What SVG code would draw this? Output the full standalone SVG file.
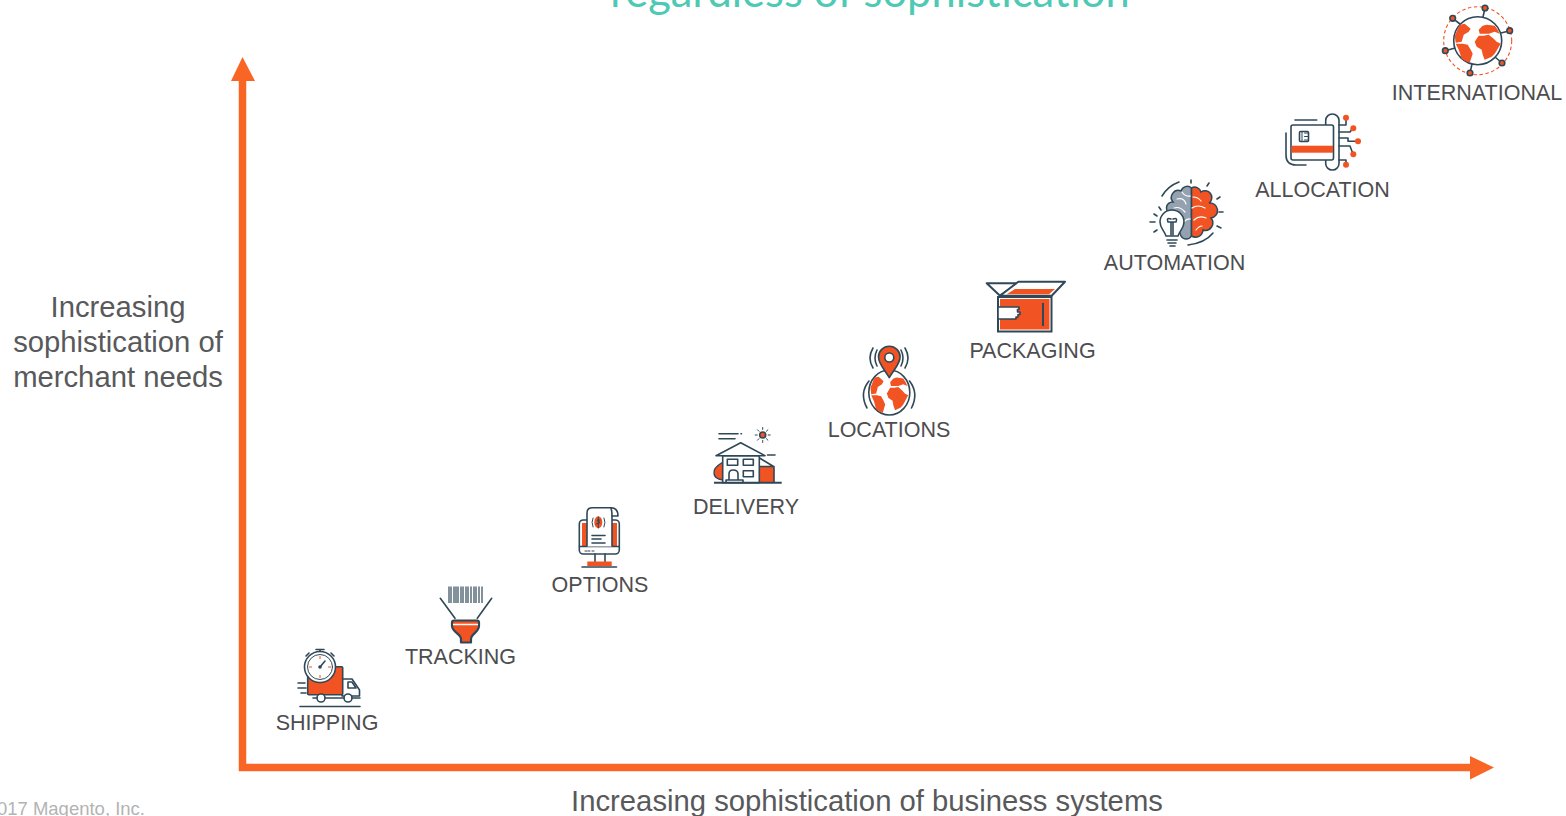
<svg xmlns="http://www.w3.org/2000/svg" xmlns:xlink="http://www.w3.org/1999/xlink" width="1566" height="816" viewBox="0 0 1566 816">
<style>
text{font-family:"Liberation Sans",Arial,sans-serif;fill:#4d4d4f}
.lb{font-size:21.500px;text-anchor:middle}
.ax{font-size:29.250px;fill:#58595b}
.s{fill:none;stroke:#2f4858;stroke-width:1.600;stroke-linecap:round;stroke-linejoin:round}
.w{fill:#fff;stroke:#2f4858;stroke-width:1.600;stroke-linejoin:round}
.o{fill:#f15322}
.ow{fill:#f15322;stroke:#2f4858;stroke-width:1.600;stroke-linejoin:round}
.t{fill:none;stroke:#2f4858;stroke-width:1;stroke-linecap:round}
.g{fill:none;stroke:#fff;stroke-width:1.200;stroke-linecap:round}
</style>
<defs>
<path id="land" class="o" d="M-23-5L-18-16-13-17-7-12-9-9-14-6-16 1-22 2ZM-22 3L-15 3-10 4-7 9-5 13-8 22-13 20-16 18-19 9ZM1-11L5-15 9-16 17-15 20-11 22-7 17-9 11-7 2-7ZM-3 1L1-5 6-5 11-6 16-2 19 1 23 3 20 8 17 13 14 16 7 19 5 14 4 9-1 6Z"/>
</defs>
<text x="870" y="7" text-anchor="middle" style="font-family:Lato,'Liberation Sans',sans-serif;font-size:43.500px;fill:#4ec9b4">regardless of sophistication</text>
<g id="axes">
<path d="M242.500 80V767.500H1471" fill="none" stroke="#f96524" stroke-width="7.500"/>
<path d="M231 81L242.500 57 255 81Z" fill="#f96524"/>
<path d="M1470 756L1494 767.500 1470 779.500Z" fill="#f96524"/>
</g>
<g id="axis-y"><text class="ax" x="118" y="317" text-anchor="middle">Increasing</text><text class="ax" x="118" y="352" text-anchor="middle">sophistication of</text><text class="ax" x="118" y="387" text-anchor="middle">merchant needs</text></g>
<g id="axis-x"><text class="ax" x="867" y="811" text-anchor="middle">Increasing sophistication of business systems</text></g>
<text x="145" y="815" text-anchor="end" style="font-size:18.500px;fill:#b3b3b3">017 Magento, Inc.</text>

<g id="shipping">
<path class="s" d="M298 683H305M298 688H306M301 693H306M300 706.500H360"/>
<path class="w" d="M342 679H352L359.500 690V696H342Z"/>
<path class="s" d="M348 682H352L356 688H348Z"/>
<rect class="ow" x="307.700" y="666.700" width="35" height="28" rx="1"/>
<circle class="w" cx="320" cy="667" r="15.500"/><circle class="t" cx="320" cy="667" r="12.500"/>
<path class="s" d="M320 667L325 661M316 649.500H324M320 650V651.500M309 653L306 656M331 653L334 656"/>
<circle cx="320" cy="667" r="1.800" fill="#2f4858"/>
<path d="M320 656V659M320 675V678M309 667H312M328 667H331" stroke="#f15322" stroke-width="1"/>
<circle class="w" cx="321" cy="698" r="4"/><circle class="w" cx="348" cy="698" r="4"/>
<path class="s" d="M313 698H317M325 698H344M352 698H360"/>
<text class="lb" x="327" y="730">SHIPPING</text>
</g>

<g id="tracking">
<path d="M449 586.500V603M451 586.500V603M454 586.500V603M456 586.500V603M458 586.500V603M461 586.500V603M463 586.500V603M466 586.500V603M468 586.500V603M471 586.500V603M474 586.500V603M476 586.500V603M479 586.500V603M482 586.500V603" stroke="#2f4858" stroke-width="1.200"/>
<path class="s" d="M440.300 598.300L455 618.300M491.700 598.300L477.300 618.300"/>
<path d="M452 622.500Q452 620.500 454 620.500H477Q479 620.500 479 622.500V626C479 632 471 634 471 639V642.500H461V639C461 634 452 632 452 626Z" fill="#f15322" stroke="#2f4858" stroke-width="2.200" stroke-linejoin="round"/>
<path d="M453 624.500H478" stroke="#fff" stroke-width="1.500"/>
<text class="lb" x="460.500" y="664">TRACKING</text>
</g>

<g id="options">
<rect class="w" x="579.300" y="520" width="40" height="34" rx="4"/>
<rect class="o" x="582" y="523" width="5" height="23"/><rect class="o" x="611.700" y="523" width="5.300" height="23"/>
<path class="s" d="M579.500 546.500H619"/>
<path class="w" d="M587 546.500V513Q587 507.700 592 507.700H611Q618 508 618 516H612V546.500"/>
<path class="s" d="M611 508Q612 511 612 516"/>
<ellipse class="o" cx="598.300" cy="522.300" rx="4" ry="6"/>
<path class="t" d="M593 518Q591 522 593 527M604 518Q606 522 604 527M596 524Q600 524 600 522Q597 521 597 520H600M598.300 517V528"/>
<path class="s" d="M592 535.500H605M592 539H601M592 543H605"/>
<path class="t" d="M585 551H587M588 551H590M592 551H594"/>
<path class="s" d="M595 554V561.500M605 554V561.500"/>
<rect class="o" x="587.300" y="561.500" width="24.400" height="4.500"/>
<path class="s" d="M582 567H616.500"/>
<text class="lb" x="600" y="592">OPTIONS</text>
</g>

<g id="delivery">
<path class="s" d="M719 433.700H738M741 433.700H741.500M719 438.700H735M767.500 455H775"/>
<circle class="ow" cx="762.700" cy="435" r="3"/>
<path class="t" d="M762.700 427.500V429.500M762.700 440.500V442.500M755.200 435H757.200M768.200 435H770.200M757.500 429.800L759 431.300M766.400 438.700L767.900 440.200M757.500 440.200L759 438.700M766.400 431.300L767.900 429.800"/>
<path d="M723 462Q713 468 714 473Q714 479 723 480Z" fill="#f15322" stroke="#2f4858" stroke-width="1.400"/>
<path class="o" d="M759.300 466.500H774V482.500H759.300Z"/>
<path class="s" d="M760 458.300L774 466.700V482M759.300 466.500H774"/>
<path class="w" d="M722.700 455.700H759.300V482.700H722.700Z"/>
<path class="s" d="M716 455.700L740.700 442.700 765 455.700Z"/>
<rect class="s" x="727.300" y="459.300" width="10.400" height="6"/><rect class="s" x="743.300" y="459.300" width="10" height="6"/><rect class="s" x="743.300" y="470.700" width="10" height="6"/>
<path class="s" d="M729 480V474Q729 470 733 470Q738 470 738 474V480M726 482.500V480H743V482.500"/>
<path d="M714 482.700H781.700" stroke="#2f4858" stroke-width="2"/>
<text class="lb" x="746" y="514">DELIVERY</text>
</g>

<g id="locations">
<ellipse class="w" cx="889.300" cy="392.500" rx="20.500" ry="22.500"/>
<use xlink:href="#land" href="#land" transform="translate(889.300 392.500) scale(.82 .93)"/>
<path class="s" d="M869 381Q859 393 867 408M909.500 381Q919 393 911.500 408"/>
<path class="s" d="M873 348Q867 358 873 368M877 350Q873 358 877 366M905 348Q911 358 905 368M901 350Q905 358 901 366"/>
<path d="M889.300 377.700C885 370 878.500 364 878.500 357A10.800 10.800 0 0 1 900.100 357C900.100 364 893.500 370 889.300 377.700Z" fill="#f15322" stroke="#2f4858" stroke-width="1.600" stroke-linejoin="round"/>
<circle class="w" cx="889.300" cy="357.500" r="4.500"/>
<text class="lb" x="889" y="437">LOCATIONS</text>
</g>

<g id="packaging">
<path class="w" d="M986.700 283.300H1018.300L1000 295.700Z" style="stroke-width:2"/>
<path class="w" d="M1018.300 281.700H1065L1051.700 295.700H1000Z" style="stroke-width:2"/>
<path class="o" d="M1015 289H1055L1049 294.300H1006.700Z"/>
<rect x="998" y="297" width="53.500" height="34.500" fill="#fff" stroke="#2f4858" stroke-width="2"/>
<rect class="o" x="1000" y="299" width="49.500" height="30.500"/>
<path d="M1043 303V326" stroke="#2f4858" stroke-width="2"/>
<path class="w" d="M998 307H1019V309.500H1017.500V312H1020V314.500H1018V317H1016V319H998Z"/>
<text class="lb" x="1032.500" y="358">PACKAGING</text>
</g>

<g id="automation">
<path d="M1191.500 188A6.500 6.500 0 0 0 1181 191A7 7 0 0 0 1173 202A6 6 0 0 0 1172 214L1181 236A6 6 0 0 0 1191.500 236Z" fill="#93a1b0" stroke="#2f4858" stroke-width="1.500"/>
<path class="g" d="M1177 199Q1184 197 1186 204M1174 208Q1180 206 1185 212M1182 192Q1185 197 1191 196M1184 222Q1187 218 1191 219"/>
<path d="M1191.500 188A6.500 6.500 0 0 1 1201 192A6.500 6.500 0 0 1 1209 203A7 7 0 0 1 1211 218A7.500 7.500 0 0 1 1203 230A7.500 7.500 0 0 1 1191.500 236Z" fill="#f15322" stroke="#2f4858" stroke-width="1.500"/>
<path class="g" d="M1193 197Q1198 197 1201 201M1192 208Q1198 204 1205 208M1194 220Q1199 215 1206 218M1196 230Q1199 226 1202 226"/>
<path class="w" d="M1166 236C1164 230 1160 228 1160 222A12 12 0 0 1 1184 222C1184 228 1180 230 1178 236Z"/>
<path class="s" d="M1167 240H1177M1168 243H1176M1170 246H1175M1171 219Q1166 217 1168 222H1176Q1178 217 1173 219M1171 222V235M1173 222V235"/>
<path class="s" d="M1162 196Q1168 186 1179 182M1191 180V183M1207 186L1209 183M1217 199L1220 197M1219 212H1223M1217 226L1221 228M1188 245Q1205 243 1213 233M1161 210L1159 207M1154 214L1157 216M1150 222H1155M1154 232L1157 230"/>
<text class="lb" x="1174.500" y="270">AUTOMATION</text>
</g>

<g id="allocation">
<rect class="w" x="1325.700" y="114" width="13.300" height="56" rx="6.600"/>
<path class="s" d="M1339 125H1346V118M1339 132H1350L1353 128M1339 138H1348V141.300H1358M1339 146H1350L1353 154M1339 160H1346V165"/>
<rect class="w" x="1291" y="125" width="42.500" height="35" rx="2"/>
<rect class="o" x="1291.500" y="145.700" width="41.500" height="7"/>
<rect class="s" x="1299.500" y="131.500" width="9" height="10" rx="1"/>
<path class="t" d="M1302 132V141M1304.500 133H1308M1304.500 136.500H1308M1304.500 140H1308"/>
<path class="s" d="M1295 120H1316.700M1286 133V155Q1286 165 1296 165H1306"/>
<circle class="o" cx="1346" cy="117.700" r="3"/><circle class="o" cx="1353.300" cy="128.300" r="3"/><circle class="o" cx="1358" cy="141.300" r="3"/><circle class="o" cx="1353.300" cy="154.300" r="3"/><circle class="o" cx="1346" cy="164.700" r="3"/>
<text class="lb" x="1322.500" y="197">ALLOCATION</text>
</g>

<g id="international">
<circle cx="1477.700" cy="40.700" r="34" fill="none" stroke="#f15322" stroke-width="1.100" stroke-dasharray="3.500 2.500"/>
<path class="s" d="M1485 8L1483 17M1452.700 18.300L1460 24M1509.700 30.700L1501 33M1445.300 50.700L1455 48M1502 63L1495 57M1470 73L1472 64"/>
<circle class="w" cx="1477.700" cy="40.700" r="24"/>
<use xlink:href="#land" href="#land" transform="translate(1477.700 40.700)"/>
<circle class="ow" cx="1485" cy="8" r="2.800"/><circle class="ow" cx="1452.700" cy="18.300" r="2.800"/><circle class="ow" cx="1509.700" cy="30.700" r="2.800"/><circle class="ow" cx="1445.300" cy="50.700" r="2.800"/><circle class="ow" cx="1502" cy="63" r="2.800"/><circle class="ow" cx="1470" cy="73" r="2.800"/>
<text class="lb" x="1477" y="100">INTERNATIONAL</text>
</g>
</svg>
